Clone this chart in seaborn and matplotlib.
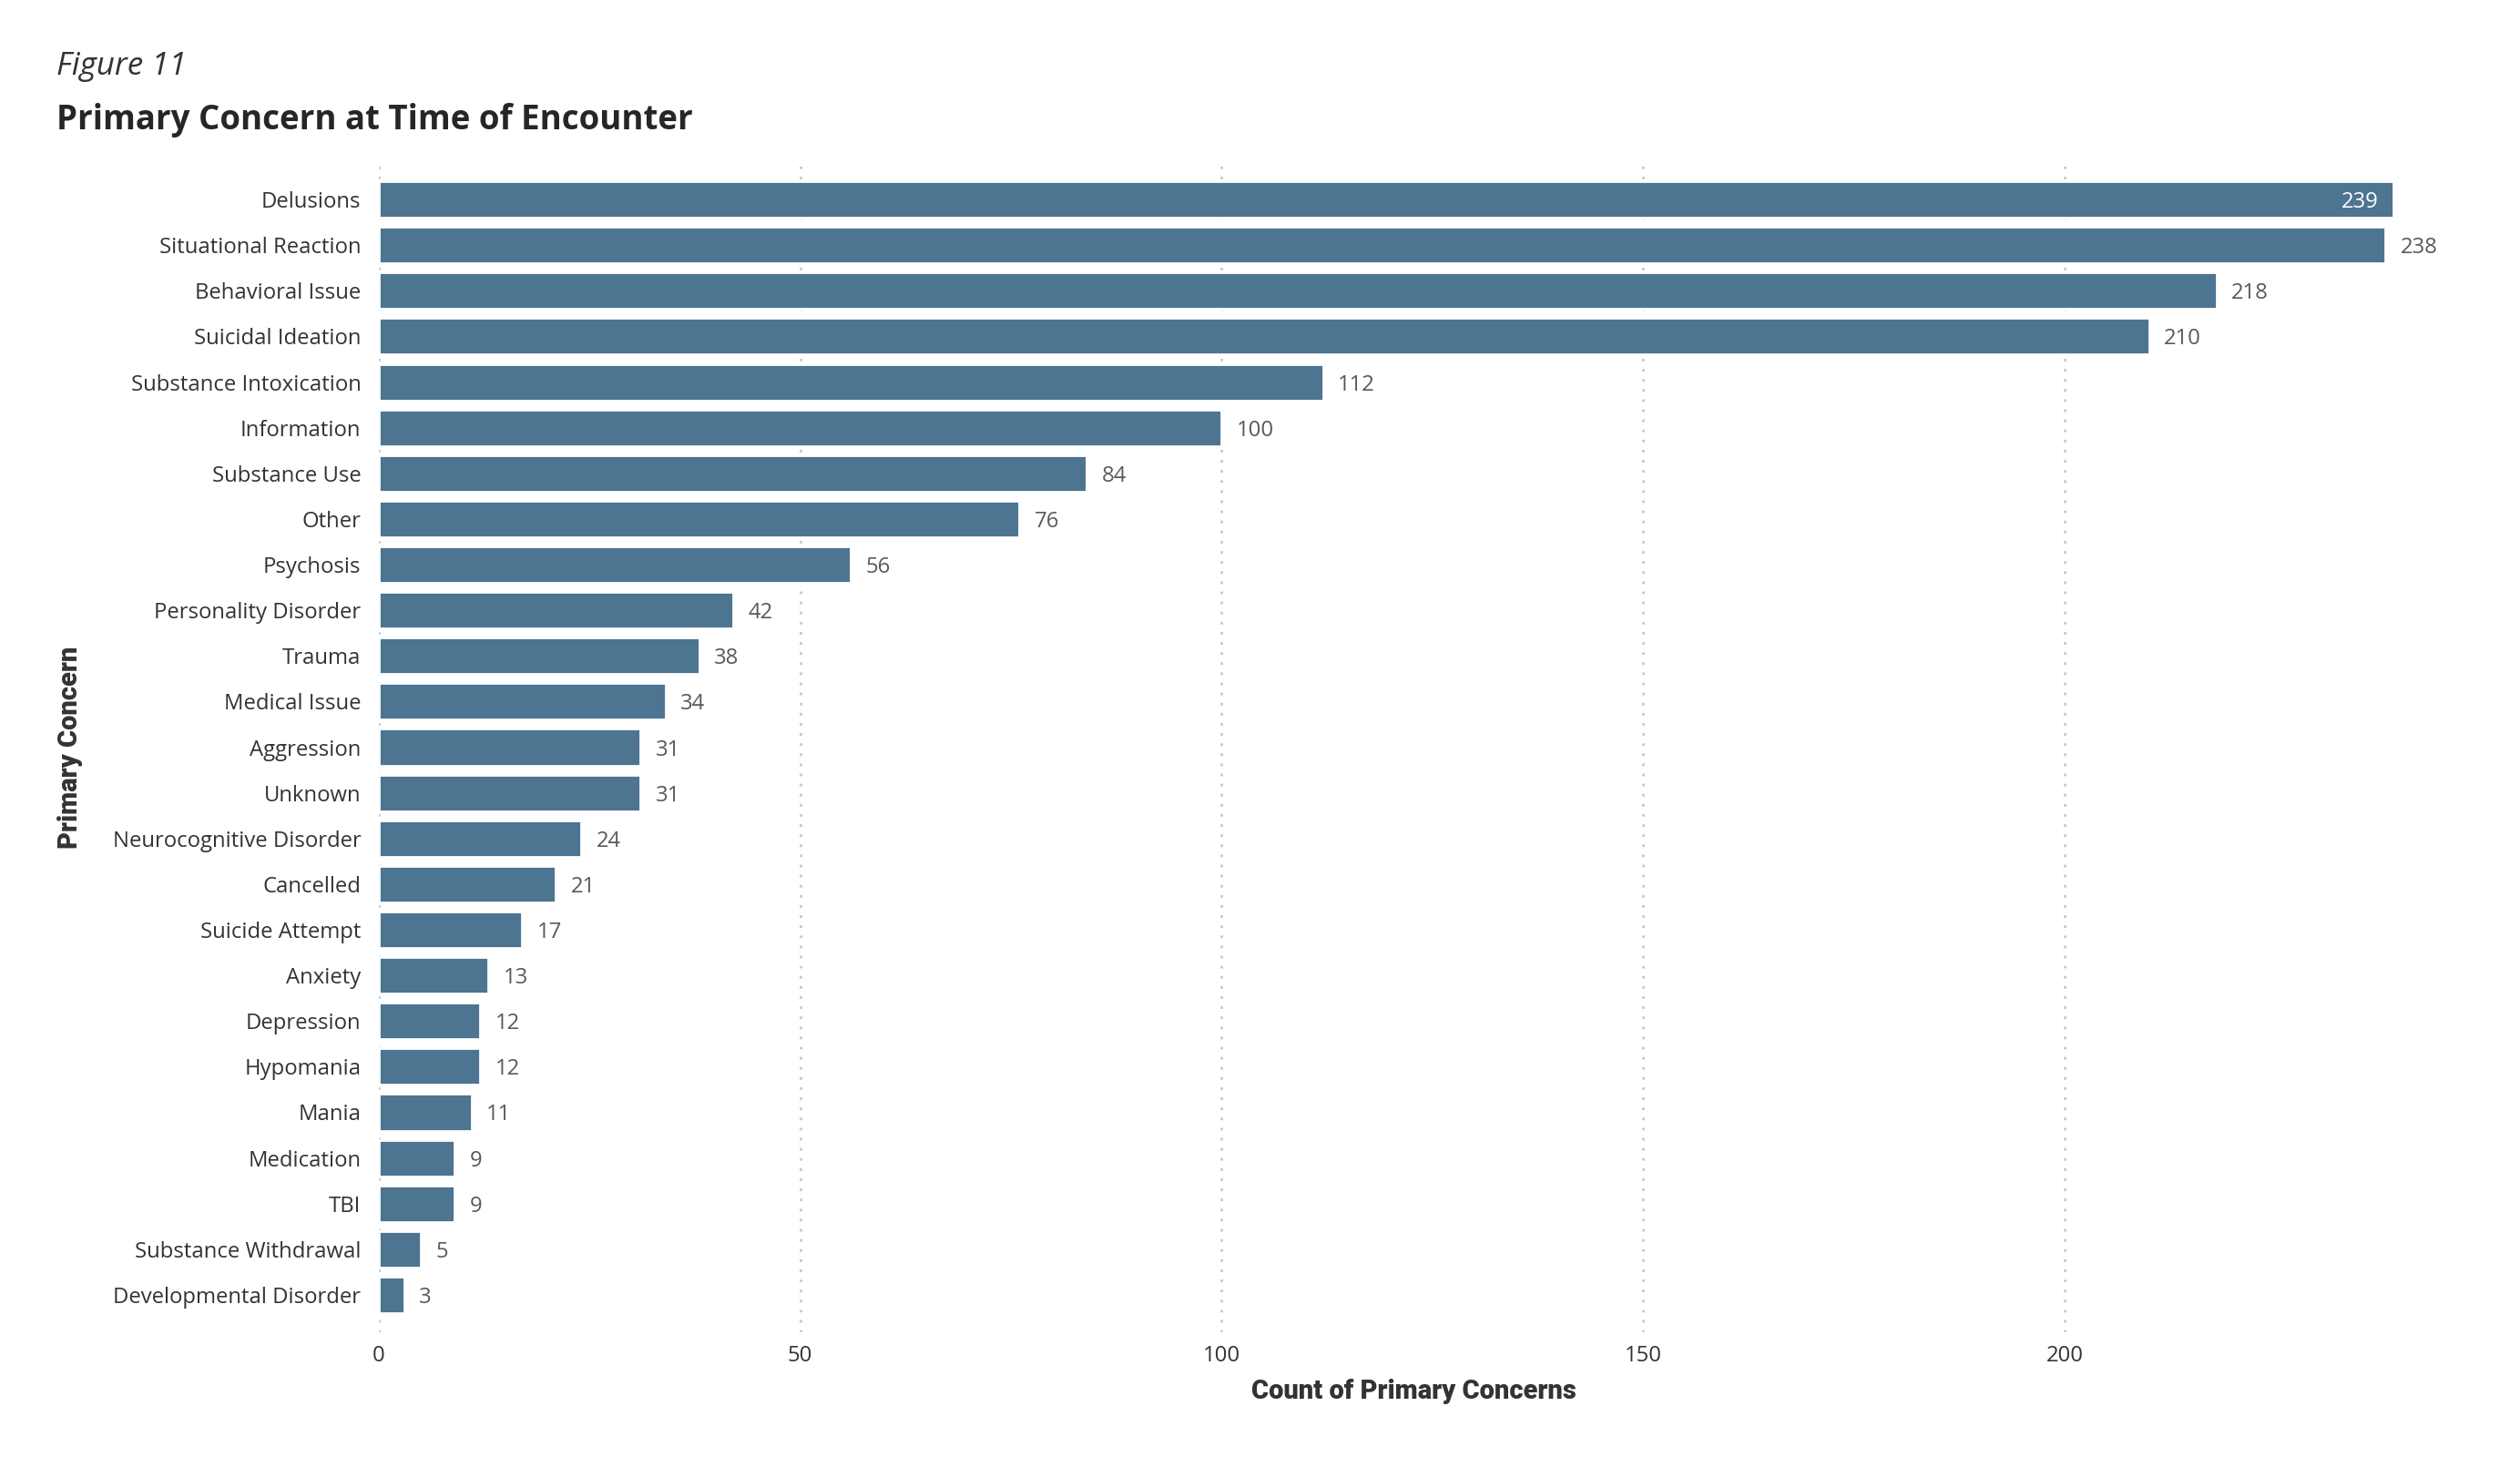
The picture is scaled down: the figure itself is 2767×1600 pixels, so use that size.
import pandas as pd
import seaborn as sns
import matplotlib.pyplot as plt

# data
concerns = [
    "Delusions", "Situational Reaction", "Behavioral Issue", "Suicidal Ideation",
    "Substance Intoxication", "Information", "Substance Use", "Other", "Psychosis",
    "Personality Disorder", "Trauma", "Medical Issue", "Aggression", "Unknown",
    "Neurocognitive Disorder", "Cancelled", "Suicide Attempt", "Anxiety",
    "Depression", "Hypomania", "Mania", "Medication", "TBI",
    "Substance Withdrawal", "Developmental Disorder",
]
counts = [239, 238, 218, 210, 112, 100, 84, 76, 56, 42, 38, 34, 31, 31,
          24, 21, 17, 13, 12, 12, 11, 9, 9, 5, 3]
x_ticks = [0, 50, 100, 150, 200]

df = pd.DataFrame({"concern": concerns, "count": counts})

sns.set_style("white")
plt.rcParams["font.family"] = ["Open Sans", "DejaVu Sans"]

bar_color = "#4D7491"

fig = plt.figure(figsize=(13.835, 8.0), dpi=200)
ax = fig.add_axes([0.1503, 0.0856, 0.9715 - 0.1503, 0.8875 - 0.0856])

sns.barplot(data=df, x="count", y="concern", order=concerns, color=bar_color,
            width=0.8, saturation=1, ax=ax, zorder=2)

ax.set_xlim(0, 245.5)
ax.set_ylim(len(concerns) - 1 + 0.82, -0.78)
ax.set_xticks(x_ticks)
ax.grid(axis="x", color="#C8C8C8", linestyle=(0, (1, 3)), linewidth=1.0, zorder=0)
ax.grid(axis="y", visible=False)
sns.despine(ax=ax, left=True, bottom=True)
ax.tick_params(axis="both", length=0, labelsize=8.6, labelcolor="#333333")
ax.tick_params(axis="y", pad=7)
ax.tick_params(axis="x", pad=5)

# value labels: the longest bar gets its label inside
bars = ax.containers[0]
top = max(counts)
for rect, val in zip(bars, counts):
    yc = rect.get_y() + rect.get_height() / 2
    if val == top:
        ax.annotate(str(val), (val, yc), xytext=(-6, 0), textcoords="offset points",
                    ha="right", va="center_baseline", fontsize=8.6, color="white")
    else:
        ax.annotate(str(val), (val, yc), xytext=(6, 0), textcoords="offset points",
                    ha="left", va="center_baseline", fontsize=8.6, color="#595959",
                    annotation_clip=False)

ax.set_xlabel("Count of Primary Concerns", fontsize=10.5, fontweight=900,
              color="#333333", family=["Roboto", "DejaVu Sans"])
ax.xaxis.set_label_coords(0.5, -0.04)
ax.xaxis.label.set_va("top")
ax.set_ylabel("")
fig.text(0.028, 0.487, "Primary Concern", rotation=90, ha="center", va="center",
         fontsize=10.5, fontweight=900, color="#333333",
         family=["Roboto", "DejaVu Sans"])

fig.text(0.0224, 0.949, "Figure 11", fontsize=12.6, style="italic", color="#333333")
fig.text(0.0224, 0.911, "Primary Concern at Time of Encounter", fontsize=13.2,
         fontweight="bold", color="#262626")

fig.savefig("out.png", dpi=200, facecolor="white")
